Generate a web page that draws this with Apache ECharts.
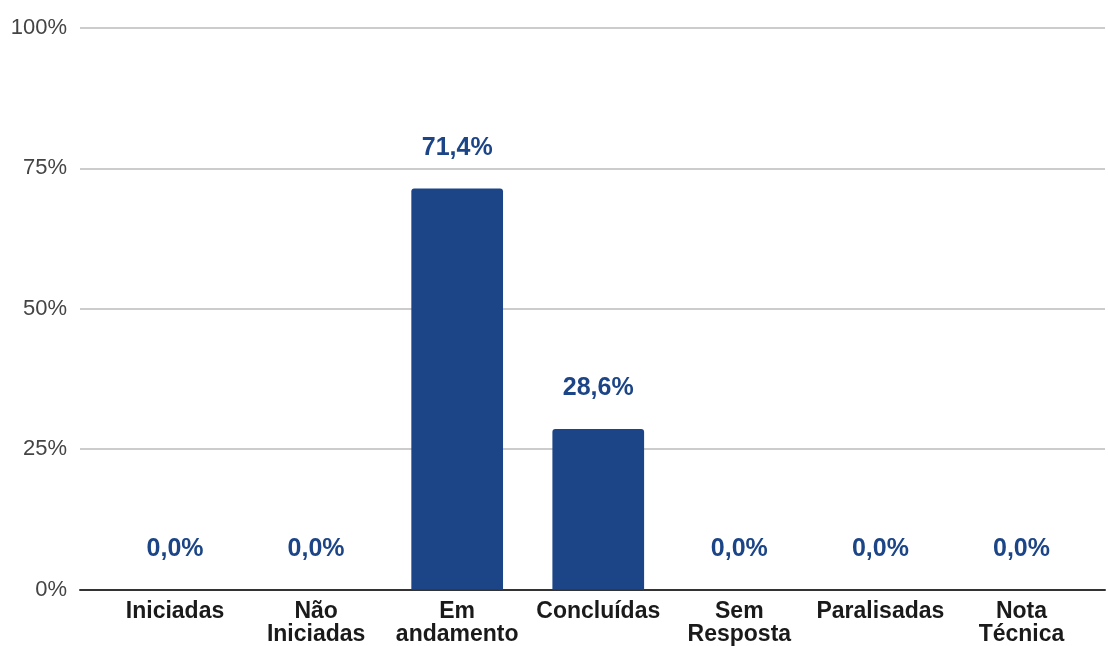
<!DOCTYPE html>
<html>
<head>
<meta charset="utf-8">
<script src="https://cdn.jsdelivr.net/npm/echarts@6/dist/echarts.min.js"></script>
<style>html,body{margin:0;padding:0;background:#fff}#c{width:1108px;height:646px}</style>
</head>
<body>
<div id="c"></div>
<script>
var categories = ["Iniciadas", "Não Iniciadas", "Em andamento", "Concluídas", "Sem Resposta", "Paralisadas", "Nota Técnica"];
var values = [0.0, 0.0, 71.4, 28.6, 0.0, 0.0, 0.0];
var yTicks = [0, 25, 50, 75, 100];

var FONT = '"Liberation Sans", Arial, sans-serif';
var BLUE = '#1c4587';
var chart = echarts.init(document.getElementById('c'), null, {renderer: 'canvas'});
chart.setOption({
  animation: false,
  backgroundColor: '#fff',
  grid: [
    {left: 104.5, right: 16, top: 28, bottom: 56.5, containLabel: false, outerBoundsMode: 'none'},
    {left: 80, right: 3, top: 28, bottom: 56.5, containLabel: false, outerBoundsMode: 'none'}
  ],
  xAxis: [
    {
      type: 'category', gridIndex: 0, data: categories,
      axisLine: {show: false}, axisTick: {show: false},
      axisLabel: {
        interval: 0, margin: 11, color: '#1a1a1a', fontFamily: FONT,
        fontSize: 23, fontWeight: 'bold', lineHeight: 23,
        formatter: function (v) { return v.replace(' ', '\n'); }
      }
    },
    {
      type: 'value', gridIndex: 1, min: 0, max: 1,
      axisLine: {show: true, onZero: false, lineStyle: {color: '#333', width: 2}},
      axisTick: {show: false}, axisLabel: {show: false}, splitLine: {show: false}
    }
  ],
  yAxis: [
    {type: 'value', gridIndex: 0, min: yTicks[0], max: yTicks[yTicks.length - 1], interval: 25,
     show: false, splitLine: {show: false}},
    {type: 'value', gridIndex: 1, min: yTicks[0], max: yTicks[yTicks.length - 1], interval: 25,
     axisLine: {show: false}, axisTick: {show: false},
     axisLabel: {margin: 13, color: '#444', fontFamily: FONT, fontSize: 22, formatter: '{value}%'},
     splitLine: {show: true, lineStyle: {color: '#cccccc', width: 2}}}
  ],
  series: [{
    type: 'bar', xAxisIndex: 0, yAxisIndex: 0, data: values,
    barWidth: '65%',
    itemStyle: {color: BLUE, borderRadius: [3, 3, 0, 0]},
    label: {
      show: true, position: 'top', distance: 28,
      color: BLUE, fontFamily: FONT, fontSize: 25, fontWeight: 'bold',
      formatter: function (p) { return p.value.toFixed(1).replace('.', ',') + '%'; }
    }
  }]
});
</script>
</body>
</html>
